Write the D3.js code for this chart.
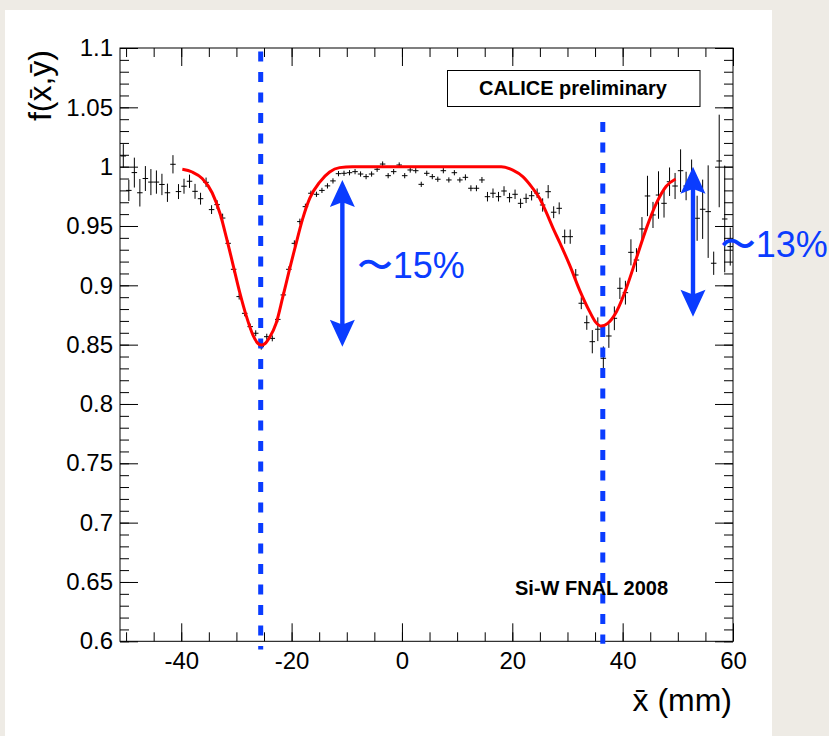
<!DOCTYPE html>
<html>
<head>
<meta charset="utf-8">
<script src="https://cdn.jsdelivr.net/npm/d3@7"></script>
<style>
  html, body { margin: 0; padding: 0; background: #eeebe5; }
  svg { display: block; }
  text { font-family: "Liberation Sans", Arial, Helvetica, sans-serif; }
</style>
</head>
<body>
<svg id="chart" width="829" height="736"></svg>
<script>
// ---- measured response vs. mean x position (1 mm bins) ----
const binX = [
  -50.5,-49.5,-48.5,-47.5,-46.5,-45.5,-44.5,-43.5,-42.5,-41.5,
  -40.5,-39.5,-38.5,-37.5,-36.5,-35.5,-34.5,-33.5,-32.5,-31.5,
  -30.5,-29.5,-28.5,-27.5,-26.5,-25.5,-24.5,-23.5,-22.5,-21.5,
  -20.5,-19.5,-18.5,-17.5,-16.5,-15.5,-14.5,-13.5,-12.5,-11.5,
  -10.5,-9.5,-8.5,-7.5,-6.5,-5.5,-4.5,-3.5,-2.5,-1.5,
  -0.5,0.5,1.5,2.5,3.5,4.5,5.5,6.5,7.5,8.5,
  9.5,10.5,11.5,12.5,13.5,14.5,15.5,16.5,17.5,18.5,
  19.5,20.5,21.5,22.5,23.5,24.5,25.5,26.5,27.5,28.5,
  29.5,30.5,31.5,32.5,33.5,34.5,35.5,36.5,37.5,38.5,
  39.5,40.5,41.5,42.5,43.5,44.5,45.5,46.5,47.5,48.5,
  49.5,50.5,51.5,52.5,53.5,54.5,55.5,56.5,57.5,58.5,
  59.5
];
const binY = [
  1.009,0.980,0.995,0.978,0.990,0.987,0.987,0.985,0.978,1.002,
  0.979,0.9835,0.9877,0.9792,0.973,0.9868,0.9638,0.968,0.9567,0.9354,
  0.9135,0.8905,0.8764,0.8652,0.8596,0.8483,0.8567,0.8553,0.8713,0.8919,
  0.9135,0.9354,0.9537,0.9663,0.9776,0.9767,0.980,0.9838,0.988,0.9941,
  0.9944,0.9949,0.9958,0.9938,0.9916,0.9938,0.9978,1.0022,0.9924,0.9958,
  1.0014,0.9924,0.9972,0.9966,0.9851,0.9944,0.9916,0.9894,0.9966,0.9888,
  0.9949,0.9888,0.991,0.9818,0.9818,0.9888,0.9747,0.9776,0.9747,0.9795,
  0.9739,0.9767,0.9691,0.9733,0.9755,0.9776,0.9677,0.9789,0.9616,0.9649,
  0.941,0.941,0.9087,0.8849,0.8685,0.8525,0.863,0.8385,0.8573,0.8722,
  0.8975,0.8938,0.9278,0.9213,0.9475,0.9753,0.9593,0.9761,0.9691,0.9873,
  0.9837,0.9966,0.9837,0.990,0.9565,0.9641,0.9621,0.9186,1.0048,0.9559,
  0.9326
];
const binErr = [
  0.010,0.009,0.0126,0.0116,0.0105,0.011,0.0098,0.009,0.0077,0.0077,
  0.0063,0.0063,0.0056,0.0063,0.005,0.004,0.0037,0.0037,0.0037,0.0025,
  0.0025,0.0025,0.0025,0.0025,0.0025,0.0025,0.0025,0.0025,0.0025,0.0025,
  0.0025,0.0025,0.0025,0.0025,0.0022,0.0022,0.0022,0.0022,0.0022,0.0022,
  0.0022,0.0022,0.0022,0.0022,0.0022,0.0022,0.0022,0.0022,0.0022,0.0022,
  0.0022,0.0022,0.0022,0.0022,0.0022,0.0022,0.0022,0.0022,0.0022,0.0022,
  0.0022,0.0022,0.0025,0.0025,0.0025,0.0025,0.004,0.004,0.004,0.004,
  0.004,0.004,0.004,0.004,0.004,0.004,0.0056,0.0056,0.005,0.005,
  0.006,0.006,0.005,0.005,0.006,0.0098,0.010,0.010,0.010,0.010,
  0.009,0.010,0.011,0.010,0.010,0.017,0.011,0.020,0.012,0.012,
  0.011,0.018,0.012,0.016,0.019,0.025,0.039,0.0098,0.039,0.045,
  0.016
];

// ---- fitted response function ----
const fitX = [-39.8,-38.0,-36.2,-34.4,-32.9,-31.8,-30.6,-29.4,-28.2,-27.0,-26.2,-25.5,-24.8,-24.0,-22.8,-21.6,-20.4,-19.2,-18.0,-16.7,-14.9,-13.1,-11.3,-9.0,0.0,10.0,18.0,20.1,21.9,23.5,25.0,26.2,27.4,28.6,30.4,32.2,34.0,35.1,36.1,37.3,38.9,40.7,42.5,44.3,46.1,47.9,49.6];
const fitY = [0.9978,0.9955,0.990,0.978,0.9595,0.940,0.917,0.894,0.874,0.858,0.8515,0.8497,0.851,0.856,0.868,0.890,0.913,0.935,0.956,0.9735,0.987,0.9955,0.9992,1.0,1.0,1.0,1.0,0.997,0.9916,0.983,0.973,0.961,0.948,0.936,0.917,0.896,0.878,0.869,0.8657,0.868,0.878,0.898,0.923,0.948,0.969,0.9835,0.9896];

// ---- gap positions (dashed guides) ----
const gapX = [-25.6, 36.4];
const gapTop = [1.097, 1.0376];
const gapBottom = [0.593, 0.598];

// ---- depth annotations ----
const depthX = [-10.8, 52.75];
const depthTop = [0.9888, 1.0];
const depthBottom = [0.8483, 0.8736];
const depthLabel = ["\u301C15%", "\u301C13%"];
const depthLabelX = [-8.2, 57.6];
const depthLabelY = [0.9062, 0.9239];

// ---- axes ----
const xMajor = [-40, -20, 0, 20, 40, 60];
const xTickLabels = ["-40", "-20", "0", "20", "40", "60"];
const xMinor = d3.range(-50, 61, 5);
const yMajor = [0.6, 0.65, 0.7, 0.75, 0.8, 0.85, 0.9, 0.95, 1.0, 1.05, 1.1];
const yTickLabels = ["0.6", "0.65", "0.7", "0.75", "0.8", "0.85", "0.9", "0.95", "1", "1.05", "1.1"];
const yMinor = d3.range(60, 111, 1).map(v => v / 100);

(function draw() {
  const svg = d3.select("#chart");
  const W = 829, H = 736;

  // paper
  svg.append("rect").attr("x", 0).attr("y", 0).attr("width", W).attr("height", H).attr("fill", "#eeebe5");
  svg.append("rect").attr("x", 5).attr("y", 10).attr("width", 767).attr("height", 740).attr("fill", "#ffffff");

  const pL = 120, pR = 733, pT = 48, pB = 641.3;
  const x = d3.scaleLinear().domain([-51.1, 60]).range([pL, pR]);
  const y = d3.scaleLinear().domain([0.6, 1.1]).range([pB, pT]);

  const FONT = '"Liberation Sans", Arial, Helvetica, sans-serif';

  function styleAxis(g) {
    g.attr("font-family", FONT).attr("font-size", 24);
    g.select(".domain").remove();
    g.selectAll(".tick line").attr("stroke", "#000").attr("stroke-width", 1);
    g.selectAll(".tick text").attr("fill", "#000");
  }

  // bottom
  svg.append("g").attr("transform", `translate(0,${pB})`)
    .call(d3.axisBottom(x).tickValues(xMinor).tickSize(-9).tickSizeOuter(0).tickFormat(""))
    .call(styleAxis);
  svg.append("g").attr("transform", `translate(0,${pB})`)
    .call(d3.axisBottom(x).tickValues(xMajor).tickSize(-18).tickSizeOuter(0).tickPadding(10.5)
      .tickFormat((d, i) => xTickLabels[i]))
    .call(styleAxis);
  // top
  svg.append("g").attr("transform", `translate(0,${pT})`)
    .call(d3.axisTop(x).tickValues(xMinor).tickSize(-9).tickSizeOuter(0).tickFormat(""))
    .call(styleAxis);
  svg.append("g").attr("transform", `translate(0,${pT})`)
    .call(d3.axisTop(x).tickValues(xMajor).tickSize(-18).tickSizeOuter(0).tickFormat(""))
    .call(styleAxis);
  // left
  svg.append("g").attr("transform", `translate(${pL},0)`)
    .call(d3.axisLeft(y).tickValues(yMinor).tickSize(-9).tickSizeOuter(0).tickFormat(""))
    .call(styleAxis);
  svg.append("g").attr("transform", `translate(${pL},0)`)
    .call(d3.axisLeft(y).tickValues(yMajor).tickSize(-18).tickSizeOuter(0).tickPadding(7)
      .tickFormat((d, i) => yTickLabels[i]))
    .call(styleAxis);
  // right
  svg.append("g").attr("transform", `translate(${pR},0)`)
    .call(d3.axisRight(y).tickValues(yMinor).tickSize(-9).tickSizeOuter(0).tickFormat(""))
    .call(styleAxis);
  svg.append("g").attr("transform", `translate(${pR},0)`)
    .call(d3.axisRight(y).tickValues(yMajor).tickSize(-18).tickSizeOuter(0).tickFormat(""))
    .call(styleAxis);

  // frame
  svg.append("rect").attr("x", pL).attr("y", pT).attr("width", pR - pL).attr("height", pB - pT)
    .attr("fill", "none").attr("stroke", "#000").attr("stroke-width", 1);

  // data points with error bars
  const pts = binX.map((v, i) => ({ x: v, y: binY[i], e: binErr[i] }));
  const gp = svg.append("g").attr("stroke", "#000").attr("stroke-width", 1);
  gp.selectAll("line.h").data(pts).join("line").attr("class", "h")
    .attr("x1", d => x(d.x - 0.5)).attr("x2", d => x(d.x + 0.5))
    .attr("y1", d => y(d.y)).attr("y2", d => y(d.y));
  gp.selectAll("line.v").data(pts).join("line").attr("class", "v")
    .attr("x1", d => x(d.x)).attr("x2", d => x(d.x))
    .attr("y1", d => y(d.y - d.e)).attr("y2", d => y(d.y + d.e));

  const BLUE = "#0a3cff";

  // dashed guides at the gaps
  svg.append("g").selectAll("line").data(gapX).join("line")
    .attr("x1", d => x(d)).attr("x2", d => x(d))
    .attr("y1", (d, i) => y(gapTop[i])).attr("y2", (d, i) => y(gapBottom[i]))
    .attr("stroke", BLUE).attr("stroke-width", 5).attr("stroke-dasharray", "10,10.5");

  // fit curve
  const fit = fitX.map((v, i) => [v, fitY[i]]);
  svg.append("path").datum(fit)
    .attr("d", d3.line().x(d => x(d[0])).y(d => y(d[1])).curve(d3.curveMonotoneX))
    .attr("fill", "none").attr("stroke", "#ff0000").attr("stroke-width", 3);

  // double arrows
  const ga = svg.append("g");
  depthX.forEach((v, i) => {
    const cx = x(v), yt = y(depthTop[i]), yb = y(depthBottom[i]);
    const hl = 27, hw = 12.5, sw = 2.2, notch = 4;
    ga.append("path")
      .attr("d",
        `M${cx},${yt} L${cx + hw},${yt + hl} L${cx + sw},${yt + hl - notch} L${cx + sw},${yb - hl + notch} ` +
        `L${cx + hw},${yb - hl} L${cx},${yb} L${cx - hw},${yb - hl} L${cx - sw},${yb - hl + notch} ` +
        `L${cx - sw},${yt + hl - notch} L${cx - hw},${yt + hl} Z`)
      .attr("fill", BLUE);
  });
  svg.append("g").selectAll("text").data(depthLabel).join("text")
    .attr("x", (d, i) => x(depthLabelX[i])).attr("y", (d, i) => y(depthLabelY[i]))
    .attr("font-family", '"Liberation Sans", "Noto Sans CJK JP", Arial, sans-serif')
    .attr("font-size", 36).attr("fill", BLUE).text(d => d);

  // caption box
  svg.append("rect").attr("x", 447.5).attr("y", 70.5).attr("width", 252.5).attr("height", 36)
    .attr("fill", "#fff").attr("stroke", "#000").attr("stroke-width", 1);
  svg.append("text").attr("x", 573).attr("y", 95).attr("text-anchor", "middle")
    .attr("font-size", 20).attr("font-weight", "bold").attr("fill", "#000").text("CALICE preliminary");
  svg.append("text").attr("x", 515).attr("y", 595)
    .attr("font-size", 20).attr("font-weight", "bold").attr("fill", "#000").text("Si-W FNAL 2008");

  // axis titles
  svg.append("text").attr("x", 732).attr("y", 711).attr("text-anchor", "end")
    .attr("font-size", 32).attr("fill", "#000").text("x\u0304 (mm)");
  svg.append("text").attr("transform", "translate(51,50) rotate(-90)").attr("text-anchor", "end")
    .attr("font-size", 32).attr("fill", "#000").text("f(x\u0304,y\u0304)");
})();
</script>
</body>
</html>
